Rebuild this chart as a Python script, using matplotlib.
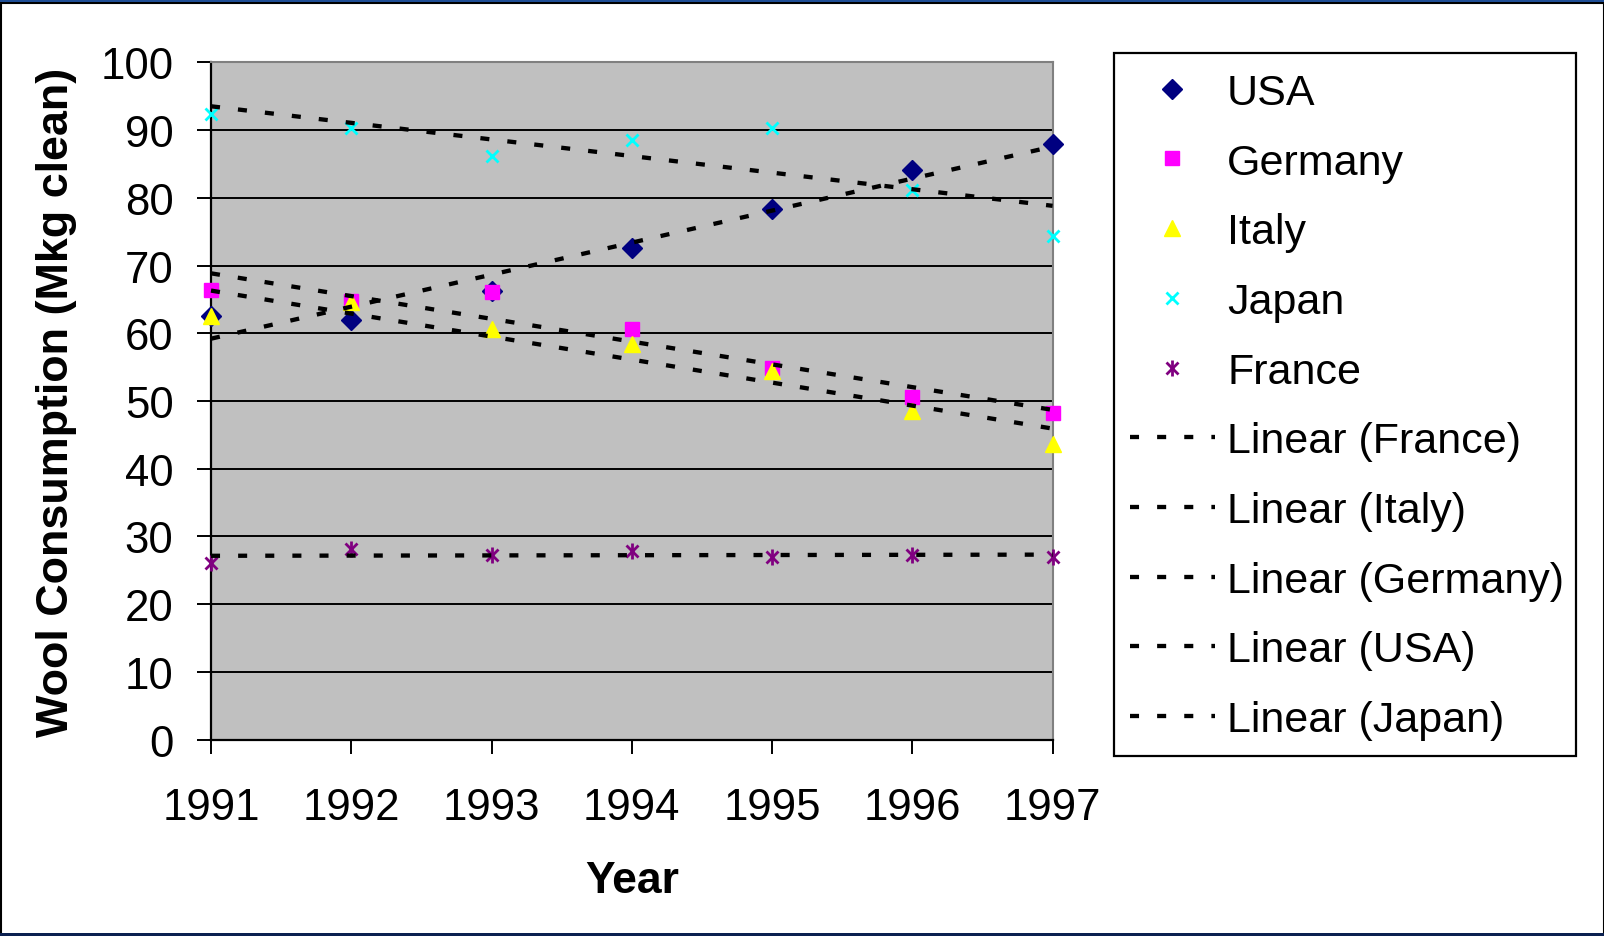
import numpy as np
import matplotlib
matplotlib.use("Agg")
import matplotlib.pyplot as plt
from matplotlib.lines import Line2D
from matplotlib.legend_handler import HandlerTuple
from matplotlib.patches import Rectangle

plt.rcParams['font.family'] = ['Liberation Sans', 'DejaVu Sans']

years = [1991, 1992, 1993, 1994, 1995, 1996, 1997]
usa = [62.5, 62.0, 66.3, 72.6, 78.3, 84.1, 87.9]
germany = [66.4, 64.7, 66.1, 60.6, 54.8, 50.6, 48.2]
italy = [62.6, 64.6, 60.6, 58.4, 54.4, 48.5, 43.7]
japan = [92.4, 90.3, 86.2, 88.6, 90.3, 81.1, 74.3]
france = [26.1, 28.1, 27.3, 27.8, 27.0, 27.3, 27.0]

W, H = 1604, 937
fig = plt.figure(figsize=(W / 100, H / 100), dpi=100)
fig.patch.set_facecolor('white')

ax = fig.add_axes([211 / W, 1 - 740.6 / H, (1052.6 - 211) / W, (740.6 - 63.4) / H])
ax.set_facecolor('#C0C0C0')
ax.set_xlim(1991, 1997)
ax.set_ylim(0, 100)
ax.set_yticks(range(0, 101, 10))
ax.set_xticks(years)
ax.yaxis.grid(True, color='black', linewidth=1.4)
ax.set_axisbelow(True)

for side in ('top', 'right'):
    ax.spines[side].set_color('#808080')
    ax.spines[side].set_linewidth(1.5)
for side in ('left', 'bottom'):
    ax.spines[side].set_color('black')
    ax.spines[side].set_linewidth(1.6)

ax.tick_params(axis='both', direction='out', length=10, width=1.4,
               labelsize=31.5, colors='black')
ax.tick_params(axis='y', pad=17)
ax.tick_params(axis='x', pad=24)

ax.set_xlabel('Year', fontsize=32, fontweight='bold', labelpad=23)
ax.set_ylabel('Wool Consumption (Mkg clean)', fontsize=32.3, fontweight='bold', labelpad=17)

x = np.array(years, dtype=float)

h_usa, = ax.plot(x, usa, linestyle='none', marker='D', markersize=10,
                 color='#000080', clip_on=False, label='USA', zorder=3)
h_ger, = ax.plot(x, germany, linestyle='none', marker='s', markersize=10,
                 color='#FF00FF', clip_on=False, label='Germany', zorder=3)
h_ita, = ax.plot(x, italy, linestyle='none', marker='^', markersize=12,
                 color='#FFFF00', clip_on=False, label='Italy', zorder=3)
h_jap, = ax.plot(x, japan, linestyle='none', marker='x', markersize=9,
                 markeredgewidth=2, color='#00FFFF', clip_on=False, label='Japan', zorder=3)
h_fr1, = ax.plot(x, france, linestyle='none', marker='x', markersize=8,
                 markeredgewidth=2, color='#800080', clip_on=False, zorder=3)
h_fr2, = ax.plot(x, france, linestyle='none', marker='|', markersize=11,
                 markeredgewidth=2, color='#800080', clip_on=False, zorder=3)

dash = dict(color='black', linewidth=3.1, dashes=(2.1, 4.2),
            dash_capstyle='butt', zorder=4, clip_on=False)
for name, vals in (('France', france), ('Italy', italy), ('Germany', germany),
                   ('USA', usa), ('Japan', japan)):
    k, b = np.polyfit(x, np.array(vals), 1)
    xs = np.array([1991.0, 1997.0])
    ax.plot(xs, k * xs + b, **dash)

legend_dash = {k_: v for k_, v in dash.items() if k_ not in ('zorder', 'clip_on')}
handles = [h_usa, h_ger, h_ita, h_jap, (h_fr1, h_fr2)] + \
          [Line2D([], [], **legend_dash) for _ in range(5)]
labels = ['USA', 'Germany', 'Italy', 'Japan', 'France',
          'Linear (France)', 'Linear (Italy)', 'Linear (Germany)',
          'Linear (USA)', 'Linear (Japan)']
leg = fig.legend(handles, labels, loc='upper left',
                 bbox_to_anchor=(1110 / W, 1 - 54 / H), fontsize=31,
                 handlelength=1.98, handletextpad=0.28, labelspacing=0.69,
                 borderpad=0.46, borderaxespad=0, fancybox=False,
                 frameon=False,
                 handler_map={tuple: HandlerTuple(ndivide=1, pad=0)})

# legend border box
fig.add_artist(Rectangle((1114 / W, 1 - 757 / H), (1576 - 1114) / W, (757 - 54) / H,
                         transform=fig.transFigure, fill=False,
                         edgecolor='black', linewidth=1.6, zorder=5))

# outer frame of the figure
fig.add_artist(Rectangle((0.5 / W, 0.5 / H), (W - 1) / W, (H - 4) / H,
                         transform=fig.transFigure, fill=False,
                         edgecolor='black', linewidth=1.5))
fig.add_artist(Rectangle((0, 1 - 3 / H), 1, 3 / H, transform=fig.transFigure,
                         facecolor='#1F4E96', edgecolor='none'))
fig.add_artist(Rectangle((0, 0), 1, 3 / H, transform=fig.transFigure,
                         facecolor='#0B2050', edgecolor='none'))

fig.savefig('out.png', dpi=100)
